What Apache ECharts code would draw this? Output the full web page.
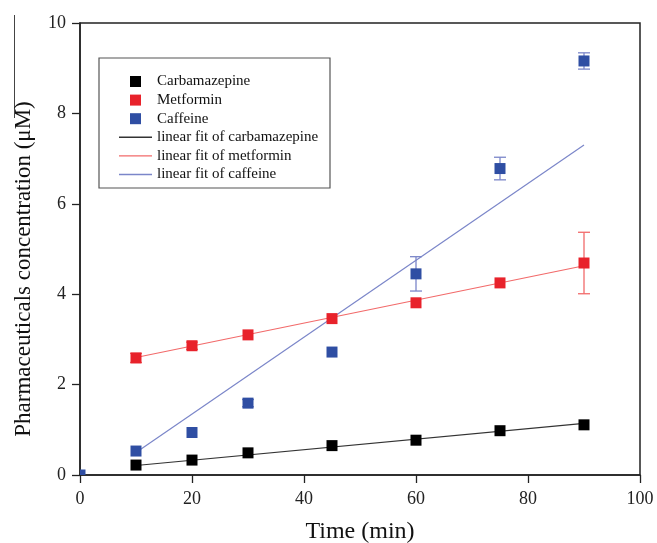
<!DOCTYPE html>
<html><head><meta charset="utf-8">
<script src="https://cdn.jsdelivr.net/npm/echarts@6/dist/echarts.min.js"></script>
<style>html,body{margin:0;padding:0;background:#fff}#c{width:657px;height:543px}</style>
</head><body><div id="c"></div>
<script>
const times = [0, 10, 20, 30, 45, 60, 75, 90];
const carbamazepine = [null, 0.22, 0.33, 0.49, 0.65, 0.77, 0.98, 1.11];
const metformin = [null, 2.59, 2.86, 3.10, 3.46, 3.81, 4.25, 4.69];
const metforminErr = [0, 0.1, 0.08, 0, 0, 0, 0, 0.68];
const caffeine = [0, 0.53, 0.94, 1.59, 2.72, 4.45, 6.78, 9.16];
const caffeineErr = [0, 0, 0, 0.08, 0, 0.38, 0.25, 0.18];
const fitX = [10, 90];
const fitCarbamazepine = [0.21, 1.14];
const fitMetformin = [2.60, 4.63];
const fitCaffeine = [0.50, 7.30];
const xTicks = [0, 20, 40, 60, 80, 100];
const yTicks = [0, 2, 4, 6, 8, 10];

const SERIF = '"Liberation Serif","DejaVu Serif",serif';
const cBlack = '#000000', cRed = '#e8222b', cBlue = '#2f4ea3';
const lBlack = '#333333', lRed = '#f26a6a', lBlue = '#7b86c9';
const SQ = 11;

// points with t > 0 drawn as scatter; the t = 0 point sits on the axes corner and is clipped
function pts(ys, onAxis) { const o = []; times.forEach((t, i) => { if (ys[i] !== null && ((t === 0) === onAxis)) o.push([t, ys[i]]); }); return o; }
function errData(ys, es) { const o = []; times.forEach((t, i) => { if (ys[i] !== null && es[i] > 0) o.push([t, ys[i] - es[i], ys[i] + es[i]]); }); return o; }
function errSeries(ys, es, color) {
  return {
    type: 'custom', silent: true, z: 3,
    data: errData(ys, es),
    renderItem: function (params, api) {
      const x = api.value(0);
      const lo = api.coord([x, api.value(1)]);
      const hi = api.coord([x, api.value(2)]);
      const w = 6;
      const st = { stroke: color, lineWidth: 1.3 };
      return { type: 'group', children: [
        { type: 'line', shape: { x1: lo[0], y1: lo[1], x2: hi[0], y2: hi[1] }, style: st },
        { type: 'line', shape: { x1: lo[0] - w, y1: lo[1], x2: lo[0] + w, y2: lo[1] }, style: st },
        { type: 'line', shape: { x1: hi[0] - w, y1: hi[1], x2: hi[0] + w, y2: hi[1] }, style: st }
      ]};
    }
  };
}
function clippedSquares(ys, color) {
  return {
    type: 'custom', silent: true, z: 1, clip: true,
    data: pts(ys, true),
    renderItem: function (params, api) {
      const p = api.coord([api.value(0), api.value(1)]);
      const cs = params.coordSys;
      const x0 = Math.max(p[0] - SQ / 2, cs.x), x1 = Math.min(p[0] + SQ / 2, cs.x + cs.width);
      const y0 = Math.max(p[1] - SQ / 2, cs.y), y1 = Math.min(p[1] + SQ / 2, cs.y + cs.height);
      return { type: 'rect', shape: { x: x0, y: y0, width: Math.max(0, x1 - x0), height: Math.max(0, y1 - y0) }, style: { fill: color } };
    }
  };
}
function fit(ys) { return fitX.map((x, i) => [x, ys[i]]); }

const squareIcon = 'path://M0,0h10v10h-10z';
const lineIcon = 'path://M0,0h33v1.4h-33z';

const chart = echarts.init(document.getElementById('c'), null, { renderer: 'canvas' });
chart.setOption({
  animation: false,
  backgroundColor: '#fff',
  grid: { left: 80, right: 17, top: 23, bottom: 68, containLabel: false, outerBoundsMode: 'none',
          show: true, borderColor: '#222', borderWidth: 1.5 },
  xAxis: {
    type: 'value', min: 0, max: 100, interval: 20,
    name: 'Time (min)', nameLocation: 'middle', nameGap: 45,
    nameTextStyle: { fontFamily: SERIF, fontSize: 24, color: '#111' },
    axisLine: { lineStyle: { color: '#222', width: 1.5 } },
    axisTick: { show: true, length: 8, lineStyle: { color: '#222', width: 1.3 } },
    axisLabel: { fontFamily: SERIF, fontSize: 18, color: '#222', margin: 15 },
    splitLine: { show: false }
  },
  yAxis: {
    type: 'value', min: 0, max: 10, interval: 2,
    axisLine: { lineStyle: { color: '#222', width: 1.5 } },
    axisTick: { show: true, length: 8, lineStyle: { color: '#222', width: 1.3 } },
    axisLabel: { fontFamily: SERIF, fontSize: 18, color: '#222', margin: 14 },
    splitLine: { show: false }
  },
  legend: {
    orient: 'vertical', left: 114, top: 69, itemWidth: 33, itemHeight: 11, itemGap: 3.6,
    symbolKeepAspect: true,
    textStyle: { fontFamily: SERIF, fontSize: 15, color: '#111' },
    data: [
      { name: 'Carbamazepine', icon: squareIcon },
      { name: 'Metformin', icon: squareIcon },
      { name: 'Caffeine', icon: squareIcon },
      { name: 'linear fit of carbamazepine', icon: lineIcon },
      { name: 'linear fit of metformin', icon: lineIcon },
      { name: 'linear fit of caffeine', icon: lineIcon }
    ]
  },
  graphic: [
    { type: 'rect', shape: { x: 99, y: 58, width: 231, height: 130 }, style: { fill: 'none', stroke: '#555', lineWidth: 1.2 }, z: 1 },
    { type: 'line', shape: { x1: 14.5, y1: 15, x2: 14.5, y2: 118 }, style: { stroke: '#444', lineWidth: 1 } },
    { type: 'text', x: 24, y: 269, rotation: Math.PI / 2,
      style: { text: 'Pharmaceuticals concentration (\u03bcM)', fontFamily: SERIF, fontSize: 23, fill: '#111', align: 'center', verticalAlign: 'middle' } }
  ],
  series: [
    { name: 'linear fit of carbamazepine', type: 'line', data: fit(fitCarbamazepine), symbol: 'none', lineStyle: { color: lBlack, width: 1.2 }, itemStyle: { color: lBlack }, z: 2 },
    { name: 'linear fit of metformin', type: 'line', data: fit(fitMetformin), symbol: 'none', lineStyle: { color: lRed, width: 1.2 }, itemStyle: { color: lRed }, z: 2 },
    { name: 'linear fit of caffeine', type: 'line', data: fit(fitCaffeine), symbol: 'none', lineStyle: { color: lBlue, width: 1.2 }, itemStyle: { color: lBlue }, z: 2 },
    errSeries(metformin, metforminErr, lRed),
    errSeries(caffeine, caffeineErr, lBlue),
    clippedSquares(caffeine, cBlue),
    { name: 'Carbamazepine', type: 'scatter', data: pts(carbamazepine, false), symbol: 'rect', symbolSize: SQ, itemStyle: { color: cBlack, opacity: 1 }, z: 4 },
    { name: 'Metformin', type: 'scatter', data: pts(metformin, false), symbol: 'rect', symbolSize: SQ, itemStyle: { color: cRed, opacity: 1 }, z: 4 },
    { name: 'Caffeine', type: 'scatter', data: pts(caffeine, false), symbol: 'rect', symbolSize: SQ, itemStyle: { color: cBlue, opacity: 1 }, z: 4 }
  ]
});
</script></body></html>
